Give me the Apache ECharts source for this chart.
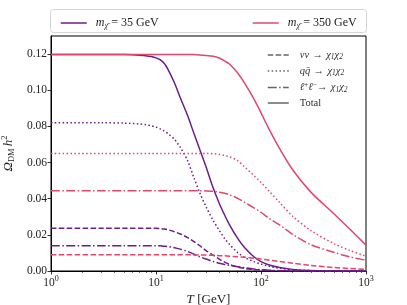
<!DOCTYPE html>
<html><head><meta charset="utf-8">
<script src="https://cdn.jsdelivr.net/npm/echarts@6/dist/echarts.min.js"></script>
<style>html,body{margin:0;padding:0;background:#fff}#c{width:407px;height:305px}</style>
</head><body><div id="c"></div>
<script>
const T = [1, 3, 5, 6, 7, 8, 9, 10, 11, 12, 13, 15, 17, 20, 23, 26, 30, 35, 40, 45, 50, 60, 70, 85, 100, 120, 150, 200, 300, 500, 700, 1000];
// m = 35 GeV
const p35Total = [0.1198,0.1198,0.1197,0.1196,0.1194,0.1191,0.1186,0.1179,0.1168,0.1148,0.1115,0.104,0.096,0.086,0.076,0.0675,0.0575,0.046,0.0375,0.0310,0.0257,0.0180,0.0128,0.0080,0.0052,0.0033,0.0019,0.0009,0.0003,0.0001,0.0000,0.0000];
const p35QQ    = [0.082,0.082,0.0818,0.0816,0.0813,0.0809,0.0803,0.0796,0.0786,0.0774,0.0760,0.0728,0.0685,0.061,0.0515,0.0435,0.0355,0.028,0.0225,0.018,0.0148,0.0102,0.0075,0.0052,0.0038,0.0026,0.0015,0.0007,0.0002,0.0001,0,0];
const p35NuNu  = [0.0237,0.0237,0.0237,0.0237,0.0237,0.0237,0.0236,0.0236,0.0235,0.0232,0.0228,0.0217,0.0205,0.0185,0.0163,0.0141,0.0113,0.0088,0.0066,0.0049,0.0037,0.0022,0.0014,0.0008,0.0005,0.0003,0.0001,0,0,0,0,0];
const p35LL    = [0.014,0.014,0.014,0.014,0.014,0.014,0.014,0.014,0.0139,0.0137,0.0135,0.0129,0.0121,0.0108,0.0093,0.0079,0.0066,0.0053,0.0043,0.0036,0.0031,0.0024,0.0018,0.0011,0.0007,0.0004,0.0002,0.0001,0,0,0,0];
// m = 350 GeV
const p350Total = [0.1198,0.1198,0.1198,0.1198,0.1198,0.1198,0.1198,0.1198,0.1198,0.1198,0.1198,0.1198,0.1198,0.1198,0.1197,0.1195,0.1192,0.1188,0.1178,0.1162,0.1145,0.1095,0.1038,0.0955,0.0875,0.0782,0.0678,0.0560,0.0435,0.0314,0.0232,0.0143];
const p350QQ    = [0.065,0.065,0.065,0.065,0.065,0.065,0.065,0.065,0.065,0.065,0.065,0.065,0.065,0.065,0.065,0.065,0.065,0.0649,0.0645,0.0639,0.0632,0.061,0.0575,0.053,0.049,0.044,0.038,0.0303,0.0223,0.0150,0.0114,0.0082];
const p350NuNu  = [0.009,0.009,0.009,0.009,0.009,0.009,0.009,0.009,0.009,0.009,0.009,0.009,0.009,0.009,0.0089,0.0089,0.0088,0.0087,0.0085,0.0084,0.0082,0.0079,0.0076,0.0071,0.0066,0.006,0.0053,0.0043,0.0031,0.0019,0.0014,0.0009];
const p350LL    = [0.0444,0.0444,0.0444,0.0444,0.0444,0.0444,0.0444,0.0444,0.0444,0.0444,0.0444,0.0444,0.0444,0.0444,0.0444,0.0444,0.0443,0.0441,0.0436,0.043,0.0422,0.0402,0.038,0.035,0.0325,0.029,0.0255,0.0203,0.0145,0.0102,0.0078,0.006];
const yTicks = [0, 0.02, 0.04, 0.06, 0.08, 0.10, 0.12];
const xMajor = [1, 10, 100, 1000];
const xMinor = [2,3,4,5,6,7,8,9,20,30,40,50,60,70,80,90,200,300,400,500,600,700,800,900];

const PURPLE = '#6c1d87';
const PINK = '#e0476d';
const GRAY = '#666';
const FONT = 'Liberation Serif';
const DASH = [5.5, 2.4], DOT = [1.5, 2.4], DASHDOT = [9, 2.4, 1.5, 2.4];

const pair = arr => T.map((t, i) => [t, arr[i]]);
function line(name, data, color, type, legendOnly) {
  return {
    name, type: 'line', data: legendOnly ? [] : pair(data), symbol: 'none', smooth: 0.3,
    xAxisIndex: 0, yAxisIndex: 0,
    lineStyle: { color, width: 1.5, type }, itemStyle: { color }, z: legendOnly ? 1 : 3, silent: true
  };
}
const series = [
  line('t35', p35Total, PURPLE, 'solid'),
  line('q35', p35QQ, PURPLE, DOT),
  line('n35', p35NuNu, PURPLE, DASH),
  line('l35', p35LL, PURPLE, DASHDOT),
  line('t350', p350Total, PINK, 'solid'),
  line('q350', p350QQ, PINK, DOT),
  line('n350', p350NuNu, PINK, DASH),
  line('l350', p350LL, PINK, DASHDOT),
  line('m35', null, PURPLE, 'solid', true),
  line('m350', null, PINK, 'solid', true),
  line('nunu', null, GRAY, DASH, true),
  line('qq', null, GRAY, DOT, true),
  line('ll', null, GRAY, DASHDOT, true),
  line('Total', null, GRAY, 'solid', true)
];
const richText = {
  r: { fontFamily: FONT, fontSize: 12, color: '#222' },
  i: { fontFamily: FONT, fontSize: 12, fontStyle: 'italic', color: '#222' },
  sub: { fontFamily: FONT, fontSize: 8, fontStyle: 'italic', color: '#222', verticalAlign: 'bottom', padding: [6, 0, 0, 0] }
};
const innerRich = {
  r: { fontFamily: FONT, fontSize: 10.5, color: '#333' },
  i: { fontFamily: FONT, fontSize: 10.5, fontStyle: 'italic', color: '#333' },
  s: { fontFamily: FONT, fontSize: 7.5, fontStyle: 'italic', color: '#333', padding: [5, 0, 0, 0] },
  u: { fontFamily: FONT, fontSize: 7.5, color: '#333', padding: [0, 0, 5, 0] }
};
const labels = {
  m35: '{i|m}{sub|χ̄} {r|= 35 GeV}',
  m350: '{i|m}{sub|χ̄} {r|= 350 GeV}',
  nunu: '{i|νν} {r|→} {i|χ}{s|1}{i|χ}{s|2}',
  qq: '{i|qq̄} {r|→} {i|χ}{s|1}{i|χ}{s|2}',
  ll: '{i|ℓ}{u|+}{i|ℓ}{u|−}{r|→} {i|χ}{s|1}{i|χ}{s|2}',
  Total: '{r|Total}'
};
const legendCommon = { selectedMode: false, itemStyle: { opacity: 0 }, lineStyle: { width: 1.5 }, formatter: n => labels[n] };

const chart = echarts.init(document.getElementById('c'), null, { renderer: 'canvas' });
chart.setOption({
  animation: false,
  backgroundColor: '#fff',
  grid: { left: 51, right: 41, top: 36, bottom: 34, outerBoundsMode: 'none', containLabel: false,
          show: true, borderColor: '#000', borderWidth: 1, backgroundColor: 'transparent' },
  graphic: [{ type: 'rect', left: 50, top: 9, shape: { width: 316, height: 23, r: 3 }, style: { fill: '#fff', stroke: '#d6d6d6', lineWidth: 1 }, z: -1 }],
  legend: [
    Object.assign({ data: ['m35'], left: 55, top: 12, itemWidth: 26, itemHeight: 14, textStyle: { rich: richText, padding: [0, 0, 0, 4] } }, legendCommon),
    Object.assign({ data: ['m350'], left: 247, top: 12, itemWidth: 26, itemHeight: 14, textStyle: { rich: richText, padding: [0, 0, 0, 4] } }, legendCommon),
    Object.assign({ data: ['nunu', 'qq', 'll', 'Total'], orient: 'vertical', left: 262, top: 44, itemWidth: 21, itemHeight: 12, itemGap: 3.5,
      textStyle: { rich: innerRich, padding: [0, 0, 0, 6] } }, legendCommon)
  ],
  xAxis: [{
    type: 'log', logBase: 10, min: 1, max: 1000, gridIndex: 0,
    name: '{i|T} {r|[GeV]}', nameLocation: 'middle', nameGap: 22,
    nameTextStyle: { rich: { i: { fontFamily: FONT, fontSize: 13, fontStyle: 'italic', color: '#222' }, r: { fontFamily: FONT, fontSize: 13, color: '#222' } } },
    axisLine: { lineStyle: { color: '#000', width: 1 } },
    axisTick: { show: true, length: 3.5, lineStyle: { color: '#000', width: 0.8 } },
    splitLine: { show: false }, minorTick: { show: false },
    axisLabel: {
      margin: 4,
      formatter: v => '{b|10}{s|' + Math.round(Math.log10(v)) + '}',
      rich: { b: { fontFamily: FONT, fontSize: 11.5, color: '#222' }, s: { fontFamily: FONT, fontSize: 8, color: '#222', padding: [0, 0, 7, 0] } }
    }
  }, {
    type: 'log', logBase: 10, min: 1, max: 1000, gridIndex: 0, position: 'bottom',
    axisLine: { show: false }, axisLabel: { show: false }, splitLine: { show: false },
    axisTick: { show: true, length: 2, lineStyle: { color: '#000', width: 0.6 }, customValues: xMinor }
  }],
  yAxis: {
    type: 'value', min: 0, max: 0.13, interval: 0.02,
    name: '{o|Ω}{s|DM}{h|h}{u|2}', nameLocation: 'middle', nameGap: 32, nameRotate: 90,
    nameTextStyle: { rich: {
      o: { fontFamily: FONT, fontSize: 13, fontStyle: 'italic', color: '#222' },
      s: { fontFamily: FONT, fontSize: 8.5, color: '#222', padding: [6, 0, 0, 0] },
      h: { fontFamily: FONT, fontSize: 13, fontStyle: 'italic', color: '#222', padding: [0, 0, 0, 2] },
      u: { fontFamily: FONT, fontSize: 8.5, color: '#222', padding: [0, 0, 7, 0] }
    } },
    axisLine: { show: true, lineStyle: { color: '#000', width: 1 } },
    axisTick: { show: true, length: 3.5, lineStyle: { color: '#000', width: 0.8 } },
    splitLine: { show: false },
    axisLabel: { showMaxLabel: false, margin: 4, fontFamily: FONT, fontSize: 11.5, color: '#222', formatter: v => v.toFixed(2) }
  },
  series
});
</script></body></html>
